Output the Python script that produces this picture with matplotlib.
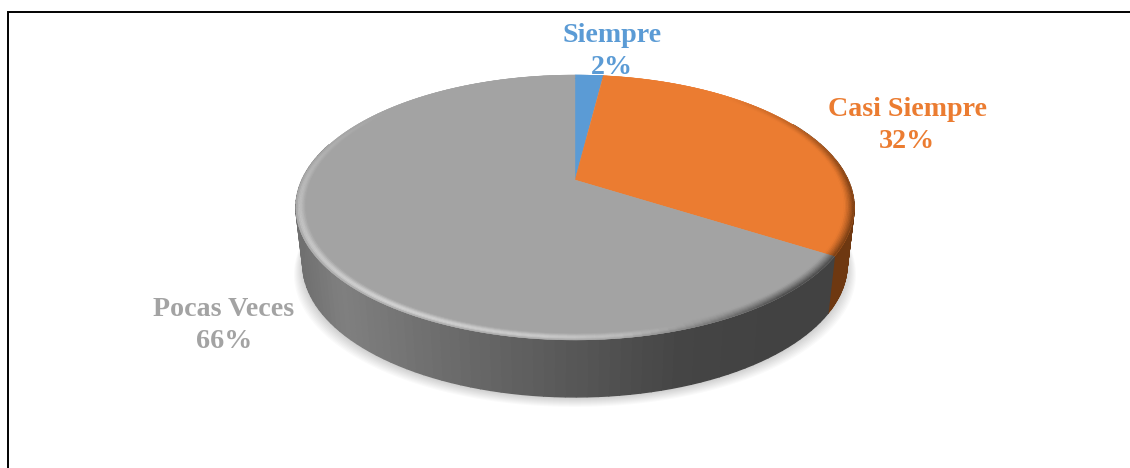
import numpy as np
import matplotlib.pyplot as plt
from matplotlib.colors import to_rgb
from matplotlib.patches import Polygon

# chart data
labels = ['Siempre', 'Casi Siempre', 'Pocas Veces']
values = [2, 32, 66]
colors = ['#5B9BD5', '#EB7C31', '#A3A3A3']
side_colors = ['#2F5F8C', '#6E3811', '#444444']

plt.rcParams['font.family'] = ['Liberation Serif', 'DejaVu Serif']

fig = plt.figure(figsize=(11.30, 4.68), dpi=100)
ax = fig.add_axes([0, 0, 1, 1])
ax.set_xlim(0, 1130)
ax.set_ylim(468, 0)
ax.axis('off')

# frame, only top and left show
ax.plot([7.5, 7.5, 1130], [468, 12, 12], color='black', lw=1.4, solid_joinstyle='miter')

cx = 575
apex_y = 180
k = 273
c = 0.2075
a = -89.4


def top_xy(theta, r=1.0):
    # perspective view of the disc, theta clockwise from 12 o'clock
    u = r * np.sin(theta)
    v = r * np.cos(theta)
    d = c * v + 1
    return cx + k * u / d, (a * v + apex_y) / d


def bottom_xy(theta):
    x, y = top_xy(theta)
    return cx + (x - cx) * 0.975, y + 57


# soft shadow under the disc
tt = np.linspace(0, 2 * np.pi, 300)
bx, by = bottom_xy(tt)
for grow in np.linspace(9, 0, 10):
    ax.add_patch(Polygon(np.c_[cx + (bx - cx) * (1 + grow / 275), by + grow + 1],
                         fc='#000000', ec='none', alpha=0.02, zorder=1))

edges = np.cumsum([0] + values) / sum(values) * 2 * np.pi

# side wall, strips so the grey can shade from left to right
grey_stops_x = [297, 340, 450, 575, 680, 760, 835]
grey_stops_v = [0.44, 0.50, 0.42, 0.34, 0.27, 0.26, 0.26]
for i, name in enumerate(labels):
    lo = max(edges[i], np.pi / 2 - 0.5)
    hi = min(edges[i + 1], 3 * np.pi / 2 + 0.3)
    if hi <= lo:
        continue
    ts = np.linspace(lo, hi, 90)
    for t0, t1 in zip(ts[:-1], ts[1:]):
        x0, y0 = top_xy(t0)
        x1, y1 = top_xy(t1)
        x2, y2 = bottom_xy(t1)
        x3, y3 = bottom_xy(t0)
        if i == 2:
            col = str(np.interp((x0 + x1) / 2, grey_stops_x, grey_stops_v))
        else:
            col = side_colors[i]
        ax.add_patch(Polygon([(x0, y0), (x1, y1), (x2, y2), (x3, y3)], fc=col, ec=col, lw=1.0, zorder=2))

# top faces
for i, name in enumerate(labels):
    ts = np.linspace(edges[i], edges[i + 1], 200)
    x, y = top_xy(ts)
    pts = np.vstack([[cx, apex_y], np.c_[x, y]])
    ax.add_patch(Polygon(pts, fc=colors[i], ec=colors[i], lw=0.3, zorder=3))

# bevel on the rim: highlight on the front left, dark on the right, none on top
rings = np.linspace(0.965, 1.0, 8)
light_deg = [150, 185, 215, 270, 310]
light_amt = [0.0, 0.45, 0.55, 0.25, 0.0]
dark_deg = [40, 90, 140, 172]
dark_amt = [0.0, 0.9, 1.0, 0.0]
for i, name in enumerate(labels):
    ts = np.linspace(edges[i], edges[i + 1], 150)
    base = np.array(to_rgb(colors[i]))
    dark = np.array(to_rgb(side_colors[i]))
    for r0, r1 in zip(rings[:-1], rings[1:]):
        w = ((r0 + r1) / 2 - rings[0]) / (rings[-1] - rings[0])
        for t0, t1 in zip(ts[:-1], ts[1:]):
            deg = np.degrees((t0 + t1) / 2)
            li = np.interp(deg, light_deg, light_amt) * np.sin(np.pi * w ** 1.5)
            da = np.interp(deg, dark_deg, dark_amt, left=0, right=0) * w ** 1.3
            col = base + (1 - base) * li
            col = col + (dark - col) * da
            x0, y0 = top_xy(t0, r0)
            x1, y1 = top_xy(t1, r0)
            x2, y2 = top_xy(t1, r1)
            x3, y3 = top_xy(t0, r1)
            ax.add_patch(Polygon([(x0, y0), (x1, y1), (x2, y2), (x3, y3)], fc=col, ec=col, lw=0.3, zorder=4))

# labels
label_x = [612, 907, 224]
label_y = [35, 109, 309]
for name, val, col, lx, ly in zip(labels, values, colors, label_x, label_y):
    ax.text(lx, ly, name, color=col, fontsize=20.2, fontweight='bold', ha='center', va='center', zorder=6)
    ax.text(lx, ly + 32, f'{val}%', color=col, fontsize=20.2, fontweight='bold', ha='center', va='center', zorder=6)

fig.savefig('out.png', dpi=100, facecolor='white')
